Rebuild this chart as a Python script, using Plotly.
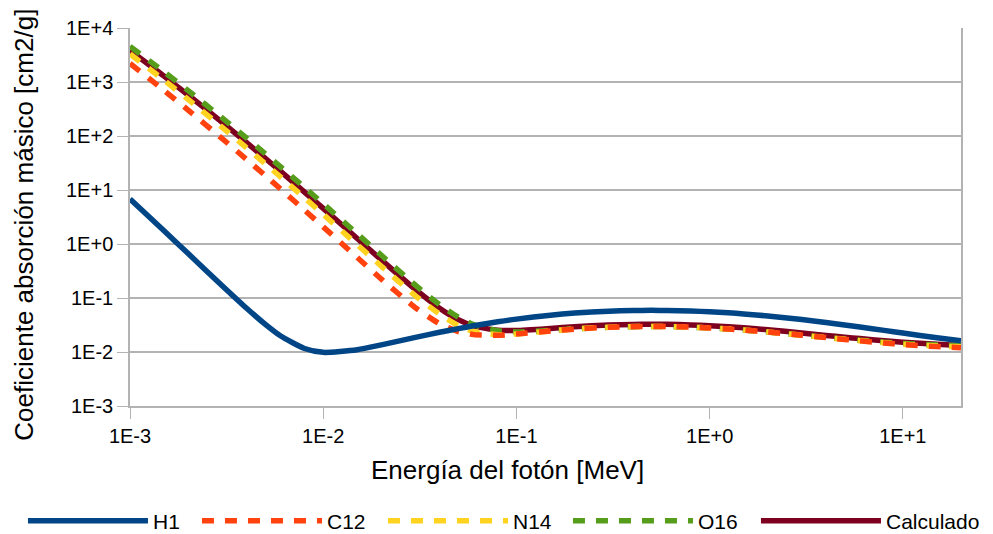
import plotly.graph_objects as go

# Photon energy grid [MeV]
energia = [1.0e-3, 1.5e-3, 2.0e-3, 3.0e-3, 4.0e-3, 5.0e-3, 6.0e-3, 8.0e-3,
           1.0e-2, 1.5e-2, 2.0e-2, 3.0e-2, 4.0e-2, 5.0e-2, 6.0e-2, 8.0e-2,
           1.0e-1, 1.5e-1, 2.0e-1, 3.0e-1, 4.0e-1, 5.0e-1, 6.0e-1, 8.0e-1,
           1.0, 1.25, 1.5, 2.0, 3.0, 4.0, 5.0, 6.0, 8.0, 10.0, 15.0, 20.0]

# Mass energy-absorption coefficients [cm2/g]
h1 = [6.820, 1.752, 0.6643, 0.1693, 0.06549, 0.03278, 0.01996, 0.01160,
      0.009849, 0.01102, 0.01355, 0.01863, 0.02315, 0.02709, 0.03053, 0.03620,
      0.04063, 0.04813, 0.05254, 0.05695, 0.05860, 0.05900, 0.05875, 0.05739,
      0.05556, 0.05311, 0.05075, 0.04650, 0.03992, 0.03523, 0.03174, 0.02905,
      0.02515, 0.02247, 0.01837, 0.01606]

c12 = [2209.0, 699.0, 301.6, 89.63, 37.23, 18.66, 10.54, 4.242,
       2.078, 0.5627, 0.2238, 0.06614, 0.03343, 0.02397, 0.02098, 0.02037,
       0.02147, 0.02449, 0.02655, 0.02870, 0.02950, 0.02969, 0.02956, 0.02885,
       0.02792, 0.02669, 0.02550, 0.02345, 0.02048, 0.01849, 0.01710, 0.01607,
       0.01468, 0.01380, 0.01258, 0.01198]

n14 = [3306.0, 1080.0, 475.5, 144.7, 60.94, 30.86, 17.59, 7.170,
       3.545, 0.9715, 0.3867, 0.1099, 0.05051, 0.03076, 0.02393, 0.02093,
       0.02159, 0.02451, 0.02659, 0.02872, 0.02951, 0.02971, 0.02959, 0.02883,
       0.02794, 0.02669, 0.02551, 0.02345, 0.02048, 0.01849, 0.01716, 0.01613,
       0.01483, 0.01394, 0.01292, 0.01245]

o16 = [4576.0, 1545.0, 692.6, 215.8, 92.21, 47.15, 27.08, 11.16,
       5.565, 1.545, 0.6179, 0.1729, 0.07530, 0.04414, 0.03207, 0.02468,
       0.02355, 0.02506, 0.02679, 0.02877, 0.02948, 0.02965, 0.02952, 0.02880,
       0.02787, 0.02666, 0.02545, 0.02342, 0.02055, 0.01868, 0.01739, 0.01646,
       0.01522, 0.01445, 0.01347, 0.01305]

calculado = [3819.0, 1283.0, 573.7, 178.1, 76.0, 38.8, 22.3, 9.16,
             4.56, 1.266, 0.507, 0.1438, 0.0648, 0.0398, 0.0305, 0.0253,
             0.0250, 0.0273, 0.0294, 0.0316, 0.0324, 0.0326, 0.0325, 0.0317,
             0.0307, 0.0293, 0.0280, 0.0258, 0.0225, 0.0203, 0.0188, 0.0177,
             0.0162, 0.0152, 0.0139, 0.0132]

x_ticks = [1e-3, 1e-2, 1e-1, 1e0, 1e1]
x_tick_text = ["1E-3", "1E-2", "1E-1", "1E+0", "1E+1"]
y_ticks = [1e-3, 1e-2, 1e-1, 1e0, 1e1, 1e2, 1e3, 1e4]
y_tick_text = ["1E-3", "1E-2", "1E-1", "1E+0", "1E+1", "1E+2", "1E+3", "1E+4"]

FONT = "Liberation Sans, Arial, sans-serif"
GRID = "#b3b3b3"
LW = 5.5
DASH = "12px,11px"

# (name, values, colour, dash, legend rank, legend entry width) drawn back to front
series = [
    ("Calculado", calculado, "#7e0021", "solid", 5, 94),
    ("O16", o16, "#579d1c", DASH, 4, 53),
    ("N14", n14, "#ffd320", DASH, 3, 50),
    ("C12", c12, "#ff420e", DASH, 2, 51),
    ("H1", h1, "#004586", "solid", 1, 39),
]

fig = go.Figure()
for name, vals, color, dash, rank, lw in series:
    fig.add_trace(go.Scatter(
        x=energia, y=vals, name=name, mode="lines",
        line=dict(color=color, width=LW, dash=dash, shape="spline", smoothing=0.6),
        legendrank=rank, legendwidth=lw,
    ))

fig.update_layout(
    width=993, height=534,
    margin=dict(l=130, r=32, t=28, b=128, autoexpand=False),
    paper_bgcolor="white", plot_bgcolor="white",
    font=dict(family=FONT, size=20, color="#000000"),
    showlegend=True,
    legend=dict(
        orientation="h", xref="paper", yref="paper",
        x=-0.1288, xanchor="left", y=-0.3046, yanchor="middle",
        font=dict(size=21), itemwidth=120, traceorder="normal",
        bgcolor="rgba(0,0,0,0)",
    ),
    xaxis=dict(
        type="log", range=[-3, 1.30103],
        tickvals=x_ticks, ticktext=x_tick_text,
        ticks="outside", ticklen=11, tickcolor=GRID, tickwidth=1,
        showgrid=False, showline=True, linecolor=GRID, linewidth=1.5,
        zeroline=False, tickfont=dict(size=20),
    ),
    yaxis=dict(
        type="log", range=[-3, 4],
        tickvals=y_ticks, ticktext=y_tick_text,
        ticks="outside", ticklen=11, tickcolor=GRID, tickwidth=1,
        showgrid=True, gridcolor=GRID, gridwidth=1.5,
        showline=True, linecolor=GRID, linewidth=1.5, mirror=True,
        zeroline=False, tickfont=dict(size=20),
    ),
    annotations=[
        dict(text="Energía del fotón [MeV]", xref="paper", yref="paper",
             x=0.4537, y=-0.1695, xanchor="center", yanchor="middle",
             showarrow=False, font=dict(size=26)),
        dict(text="Coeficiente absorción másico [cm2/g]", xref="paper", yref="paper",
             x=-0.1276, y=0.4795, xanchor="center", yanchor="middle",
             textangle=-90, showarrow=False, font=dict(size=26)),
    ],
)

fig.write_html("out.html")
